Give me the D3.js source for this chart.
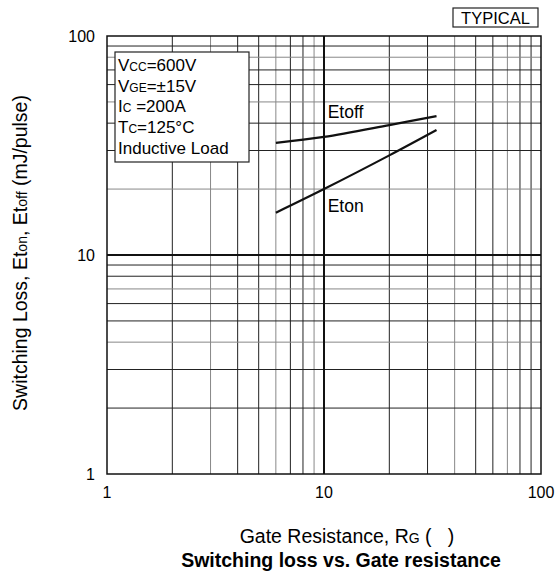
<!DOCTYPE html>
<html>
<head>
<meta charset="utf-8">
<script src="https://cdn.jsdelivr.net/npm/d3@7"></script>
<style>
  body { margin: 0; background: #fff; }
  svg { font-family: "Liberation Sans", Arial, sans-serif; }
</style>
</head>
<body>
<svg id="chart" width="558" height="577"></svg>
<script>
// gate resistance (ohm) vs switching loss (mJ/pulse)
var rgEtoff = [6, 10, 20, 33],
    etoff   = [32.5, 34.6, 39.2, 43.1],
    rgEton  = [6, 10, 20, 33],
    eton    = [15.6, 20, 28.5, 37.2];

var xTicks = [1, 10, 100],
    yTicks = [1, 10, 100];

var conditions = [
  ["V", "CC", "=600V"],
  ["V", "GE", "=\u00b115V"],
  ["I", "C", " =200A"],
  ["T", "C", "=125\u00b0C"],
  ["Inductive Load", "", ""]
];

var svg = d3.select("#chart"),
    margin = {top: 36, right: 17, bottom: 103, left: 107},
    width = 558 - margin.left - margin.right,
    height = 577 - margin.top - margin.bottom,
    g = svg.append("g").attr("transform", "translate(" + margin.left + "," + margin.top + ")");

var x = d3.scaleLog().domain([1, 100]).range([0, width]);
var y = d3.scaleLog().domain([1, 100]).range([height, 0]);

// minor grid
var minor = [];
[1, 10].forEach(function(d) { for (var k = 2; k <= 9; k++) minor.push(d * k); });

g.append("g").selectAll("line")
  .data(minor)
  .enter().append("line")
    .attr("x1", function(d) { return x(d); })
    .attr("x2", function(d) { return x(d); })
    .attr("y1", 0).attr("y2", height)
    .attr("stroke", function(d, i) { return (i % 3 === 1) ? "#888" : "#222"; })
    .attr("stroke-width", 1);

g.append("g").selectAll("line")
  .data(minor)
  .enter().append("line")
    .attr("y1", function(d) { return y(d); })
    .attr("y2", function(d) { return y(d); })
    .attr("x1", 0).attr("x2", width)
    .attr("stroke", function(d, i) { return (i % 3 === 2) ? "#888" : "#222"; })
    .attr("stroke-width", 1);

// major lines
g.append("line").attr("x1", x(10)).attr("x2", x(10)).attr("y1", 0).attr("y2", height)
  .attr("stroke", "#111").attr("stroke-width", 2);
g.append("line").attr("y1", y(10)).attr("y2", y(10)).attr("x1", 0).attr("x2", width)
  .attr("stroke", "#111").attr("stroke-width", 2);

g.append("rect")
  .attr("width", width).attr("height", height)
  .attr("fill", "none").attr("stroke", "#111").attr("stroke-width", 1.5);

// tick labels
g.selectAll("text.xt")
  .data(xTicks)
  .enter().append("text")
    .attr("x", function(d) { return x(d); })
    .attr("y", height + 24)
    .attr("text-anchor", "middle")
    .attr("font-size", 16)
    .text(function(d) { return d; });

g.selectAll("text.yt")
  .data(yTicks)
  .enter().append("text")
    .attr("x", -12)
    .attr("y", function(d) { return y(d) + 6; })
    .attr("text-anchor", "end")
    .attr("font-size", 16)
    .text(function(d) { return d; });

// curve labels with white backing
function label(txt, lx, ly) {
  var t = g.append("text").attr("x", lx).attr("y", ly).attr("font-size", 17.5).text(txt);
  var b = t.node().getBBox();
  g.insert("rect", "text")
    .attr("x", b.x - 2).attr("y", b.y + 1).attr("width", b.width + 4).attr("height", b.height - 2)
    .attr("fill", "#fff");
  t.raise();
}

var line = d3.line()
  .x(function(d) { return x(d[0]); })
  .y(function(d) { return y(d[1]); })
  .curve(d3.curveCatmullRom);

label("Etoff", x(10.4), y(42.3));
label("Eton", x(10.4), y(15.7));

g.append("path")
  .datum(d3.zip(rgEtoff, etoff))
  .attr("d", line)
  .attr("fill", "none").attr("stroke", "#111").attr("stroke-width", 2.2);

g.append("path")
  .datum(d3.zip(rgEton, eton))
  .attr("d", line)
  .attr("fill", "none").attr("stroke", "#111").attr("stroke-width", 2.2);

// conditions box
var box = g.append("g").attr("transform", "translate(8,16)");
box.append("rect")
  .attr("width", 134).attr("height", 110)
  .attr("fill", "#fff").attr("stroke", "#222").attr("stroke-width", 1.2);
conditions.forEach(function(c, i) {
  var t = box.append("text")
    .attr("x", 3).attr("y", 19 + i * 20.7)
    .attr("font-size", 17);
  t.append("tspan").text(c[0]);
  if (c[1]) t.append("tspan").attr("font-size", 12).text(c[1]);
  t.append("tspan").text(c[2]);
});

// TYPICAL tag
var tag = svg.append("g").attr("transform", "translate(453,8)");
tag.append("rect").attr("width", 85).attr("height", 19)
  .attr("fill", "#fff").attr("stroke", "#222").attr("stroke-width", 1.2);
tag.append("text").attr("x", 42.5).attr("y", 15.5).attr("text-anchor", "middle")
  .attr("font-size", 16.5).text("TYPICAL");

// axis titles
var xt = svg.append("text")
  .attr("x", 347).attr("y", 543)
  .attr("text-anchor", "middle")
  .attr("font-size", 19.5);
xt.append("tspan").text("Gate Resistance, R");
xt.append("tspan").attr("font-size", 14).text("G");
xt.append("tspan").text(" (\u00a0\u00a0\u00a0)");

svg.append("text")
  .attr("x", 341).attr("y", 567)
  .attr("text-anchor", "middle")
  .attr("font-size", 19.5).attr("font-weight", "bold")
  .text("Switching loss vs. Gate resistance");

var yt = svg.append("text")
  .attr("transform", "translate(27,253) rotate(-90)")
  .attr("text-anchor", "middle")
  .attr("font-size", 19.5);
yt.append("tspan").text("Switching Loss, Et");
yt.append("tspan").attr("font-size", 14).text("on");
yt.append("tspan").text(", Et");
yt.append("tspan").attr("font-size", 14).text("off");
yt.append("tspan").text(" (mJ/pulse)");
</script>
</body>
</html>
